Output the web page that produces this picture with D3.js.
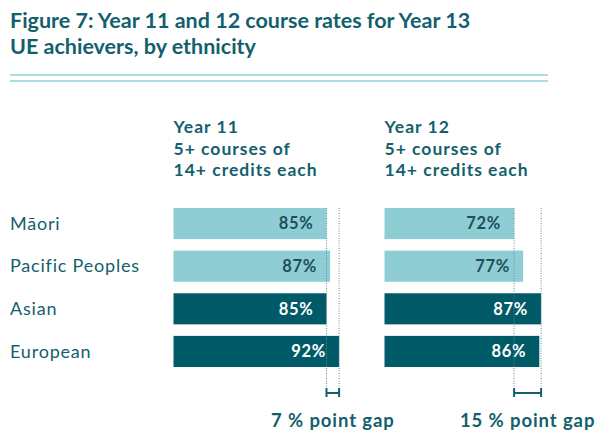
<!DOCTYPE html>
<html lang="en">
<head>
<meta charset="utf-8">
<title>Figure 7</title>
<style>
  body { margin: 0; background: #fff; }
  svg text { font-family: Lato, "Open Sans", sans-serif; }
</style>
</head>
<body>
<script src="https://cdn.jsdelivr.net/npm/d3@7/dist/d3.min.js"></script>
<script>
var categories = ["Māori", "Pacific Peoples", "Asian", "European"];
var year11 = [85, 87, 85, 92];
var year12 = [72, 77, 87, 86];
var panelTitles = [["Year 11", "5+ courses of", "14+ credits each"],
                   ["Year 12", "5+ courses of", "14+ credits each"]];
var gapLabels = ["7 % point gap", "15 % point gap"];

var w = 600, h = 447;
var dark = "#005a68", light = "#8ecdd4", ink = "#135f6d";

var svg = d3.select("body").append("svg")
  .attr("width", w)
  .attr("height", h);

// title
svg.append("text")
  .attr("x", 10).attr("y", 28)
  .attr("fill", ink)
  .attr("font-size", 21.5).attr("font-weight", 700)
  .text("Figure 7: Year 11 and 12 course rates for Year 13");
svg.append("text")
  .attr("x", 10).attr("y", 54)
  .attr("fill", ink)
  .attr("font-size", 21.5).attr("font-weight", 700)
  .text("UE achievers, by ethnicity");

[75, 81].forEach(function(y) {
  svg.append("line")
    .attr("x1", 10).attr("x2", 548)
    .attr("y1", y).attr("y2", y)
    .attr("stroke", "#acdbe0").attr("stroke-width", 2);
});

var y = d3.scaleBand()
  .domain(categories)
  .range([208, 367])
  .paddingInner(0.27)
  .paddingOuter(0);

// category labels
svg.selectAll(".cat")
  .data(categories)
  .enter().append("text")
  .attr("class", "cat")
  .attr("x", 10)
  .attr("y", function(d) { return y(d) + y.bandwidth() / 2; })
  .attr("dy", "0.35em")
  .attr("fill", ink)
  .attr("font-size", 18)
  .attr("letter-spacing", 0.8)
  .text(function(d) { return d; });

var panels = [
  { x0: 173.5, values: year11, title: panelTitles[0], gap: gapLabels[0] },
  { x0: 384.5, values: year12, title: panelTitles[1], gap: gapLabels[1] }
];

panels.forEach(function(p, pi) {
  var x = d3.scaleLinear().domain([0, 100]).range([p.x0, p.x0 + 180]);
  var g = svg.append("g");

  // header
  var t = g.append("text")
    .attr("fill", ink)
    .attr("font-size", 17.5).attr("font-weight", 700)
    .attr("letter-spacing", 1);
  p.title.forEach(function(line, i) {
    t.append("tspan").attr("x", p.x0).attr("y", 133 + i * 21.5).text(line);
  });

  var rows = categories.map(function(c, i) { return { cat: c, v: p.values[i], i: i }; });

  g.selectAll("rect")
    .data(rows)
    .enter().append("rect")
    .attr("x", x(0))
    .attr("y", function(d) { return y(d.cat); })
    .attr("width", function(d) { return x(d.v) - x(0); })
    .attr("height", y.bandwidth())
    .attr("fill", function(d) { return d.i < 2 ? light : dark; });

  g.selectAll(".val")
    .data(rows)
    .enter().append("text")
    .attr("class", "val")
    .attr("x", function(d) { return x(d.v) - 13; })
    .attr("y", function(d) { return y(d.cat) + y.bandwidth() / 2; })
    .attr("dy", "0.36em")
    .attr("text-anchor", "end")
    .attr("font-size", 16.5).attr("font-weight", 700)
    .attr("letter-spacing", 0.7)
    .attr("fill", function(d) { return d.i < 2 ? "#1d4f5b" : "#fff"; })
    .text(function(d) { return d.v + "%"; });

  // gap markers
  var lo = d3.min(p.values), hi = d3.max(p.values);
  [lo, hi].forEach(function(v) {
    g.append("line")
      .attr("x1", x(v)).attr("x2", x(v))
      .attr("y1", 208).attr("y2", 390)
      .attr("stroke", "#5e8e98").attr("stroke-width", 1)
      .attr("stroke-dasharray", "1,1.5");
    g.append("line")
      .attr("x1", x(v)).attr("x2", x(v))
      .attr("y1", 388).attr("y2", 397)
      .attr("stroke", ink).attr("stroke-width", 2);
  });
  g.append("line")
    .attr("x1", x(lo)).attr("x2", x(hi))
    .attr("y1", 393).attr("y2", 393)
    .attr("stroke", ink).attr("stroke-width", 2);

  g.append("text")
    .attr("x", (x(lo) + x(hi)) / 2)
    .attr("y", 427)
    .attr("text-anchor", "middle")
    .attr("fill", ink)
    .attr("font-size", 18.5).attr("font-weight", 700)
    .attr("letter-spacing", 0.9)
    .text(p.gap);
});
</script>
</body>
</html>
